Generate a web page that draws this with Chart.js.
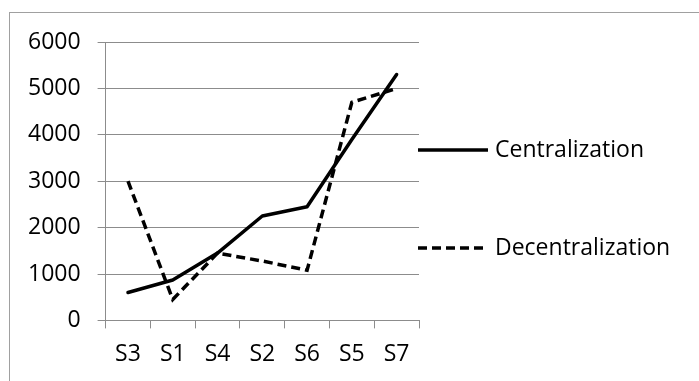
<!DOCTYPE html>
<html>
<head>
<meta charset="utf-8">
<script src="https://cdn.jsdelivr.net/npm/chart.js@4"></script>
<style>
  html, body { margin: 0; padding: 0; background: #fff; }
  .wrap { width: 699px; height: 381px; position: relative; }
</style>
</head>
<body>
<div class="wrap"><canvas id="myChart" width="699" height="381"></canvas></div>
<script>
const categories = ["S3", "S1", "S4", "S2", "S6", "S5", "S7"];
const centralization = [600, 870, 1450, 2250, 2450, 3900, 5300];
const decentralization = [3000, 450, 1450, 1280, 1080, 4700, 5000];
const seriesNames = ["Centralization", "Decentralization"];
const yTicks = [0, 1000, 2000, 3000, 4000, 5000, 6000];

const fontFamily = "'Open Sans', sans-serif";
const gridColor = "#8c8c8c";

// outer frame (only top and left edges fall inside the picture)
const framePlugin = {
  id: "frame",
  beforeDraw(chart) {
    const ctx = chart.ctx;
    ctx.save();
    ctx.fillStyle = "#fff";
    ctx.fillRect(0, 0, chart.width, chart.height);
    ctx.strokeStyle = "#a0a0a0";
    ctx.lineWidth = 1;
    ctx.strokeRect(9.5, 12.5, chart.width + 10, chart.height + 10);
    ctx.restore();
  }
};

// legend to the right, line samples like the dataset style
const sideLegend = {
  id: "sideLegend",
  afterDraw(chart) {
    const ctx = chart.ctx;
    const x0 = chart.chartArea.right - 1;
    const rows = [150, 248];
    ctx.save();
    chart.data.datasets.forEach((ds, i) => {
      const y = rows[i];
      ctx.strokeStyle = ds.borderColor;
      ctx.lineWidth = ds.borderWidth;
      ctx.setLineDash(ds.borderDash || []);
      ctx.beginPath();
      ctx.moveTo(x0, y);
      ctx.lineTo(x0 + 70, y);
      ctx.stroke();
      ctx.setLineDash([]);
      ctx.fillStyle = "#000";
      ctx.font = "23px " + fontFamily;
      ctx.textBaseline = "middle";
      ctx.textAlign = "left";
      ctx.fillText(ds.label, x0 + 77, y);
    });
    ctx.restore();
  }
};

const ctx = document.getElementById("myChart").getContext("2d");
new Chart(ctx, {
  type: "line",
  data: {
    labels: categories,
    datasets: [
      {
        label: seriesNames[0],
        data: centralization,
        borderColor: "#000",
        borderWidth: 3.5,
        pointRadius: 0,
        tension: 0,
        borderJoinStyle: "round",
        borderCapStyle: "round"
      },
      {
        label: seriesNames[1],
        data: decentralization,
        borderColor: "#000",
        borderWidth: 3.5,
        borderDash: [9, 5],
        pointRadius: 0,
        tension: 0,
        borderJoinStyle: "miter",
        borderCapStyle: "butt"
      }
    ]
  },
  options: {
    responsive: false,
    animation: false,
    events: [],
    layout: { padding: { left: 11, right: 280, top: 42, bottom: 1 } },
    plugins: {
      legend: { display: false },
      tooltip: { enabled: false }
    },
    scales: {
      x: {
        offset: true,
        grid: {
          offset: true,
          drawOnChartArea: false,
          drawTicks: true,
          tickLength: 8,
          color: gridColor
        },
        border: { color: gridColor },
        ticks: {
          color: "#000",
          padding: 12,
          maxRotation: 0,
          font: { family: fontFamily, size: 23 }
        }
      },
      y: {
        min: yTicks[0],
        max: yTicks[yTicks.length - 1],
        afterBuildTicks(scale) {
          scale.ticks = yTicks.map(v => ({ value: v }));
        },
        grid: {
          color: gridColor,
          tickLength: 8
        },
        border: { color: gridColor },
        ticks: {
          color: "#000",
          padding: 17,
          callback: v => String(v),
          font: { family: fontFamily, size: 23 }
        }
      }
    }
  },
  plugins: [framePlugin, sideLegend]
});
</script>
</body>
</html>
